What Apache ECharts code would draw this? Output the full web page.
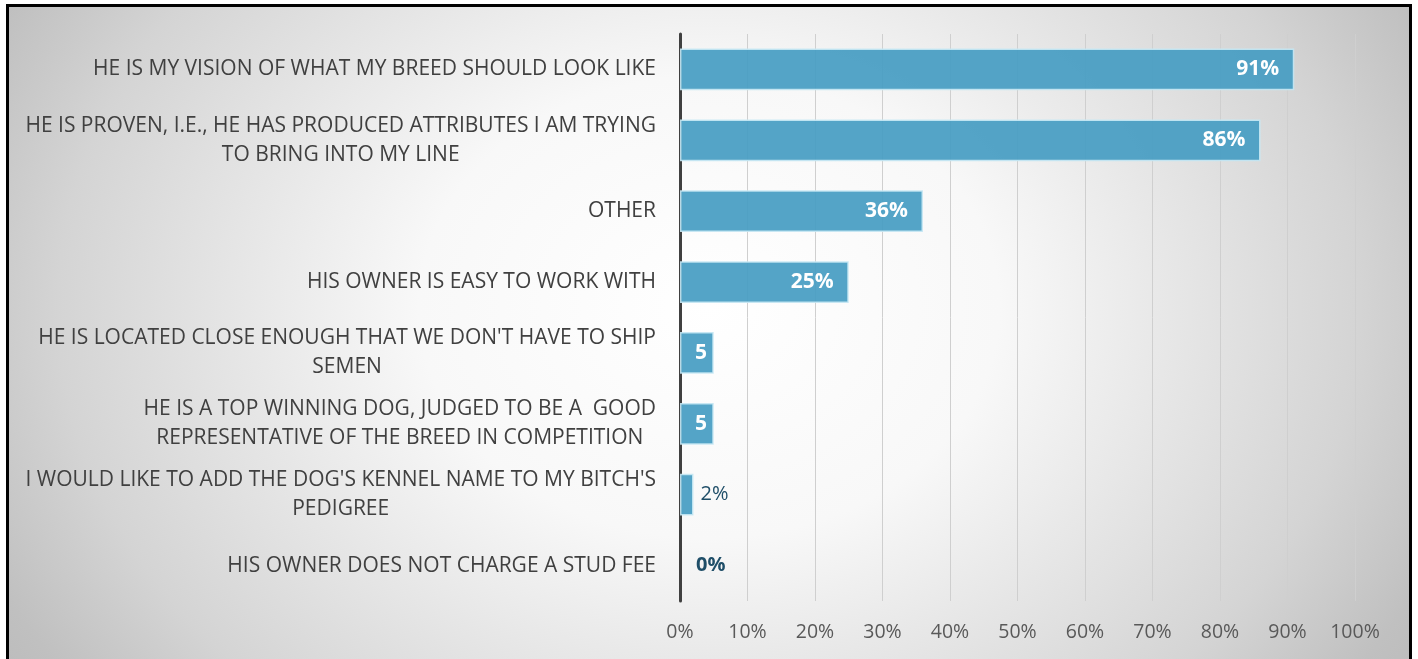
<!DOCTYPE html>
<html>
<head>
<meta charset="utf-8">
<script src="https://cdn.jsdelivr.net/npm/echarts@6/dist/echarts.min.js"></script>
<style>
  html, body { margin: 0; padding: 0; background: #ffffff; }
  #frame {
    position: absolute; left: 6px; top: 4px; width: 1400px; height: 700px;
    border: 3px solid #000; box-sizing: content-box;
    background: radial-gradient(ellipse 880px 700px at 700px 300px,
      #ffffff 0%, #f8f8f8 33%, #d4d4d4 74%, #c0c0c0 90%, #b9b9b9 100%);
  }
  #chart { position: absolute; left: 0; top: 0; width: 1418px; height: 659px; }
</style>
</head>
<body>
<div id="frame"></div>
<div id="chart"></div>
<script>
// Reasons for choosing a stud dog (share of respondents, %)
const categories = [
  "HE IS MY VISION OF WHAT MY BREED SHOULD LOOK LIKE",
  "HE IS PROVEN, I.E., HE HAS PRODUCED ATTRIBUTES I AM TRYING\nTO BRING INTO MY LINE",
  "OTHER",
  "HIS OWNER IS EASY TO WORK WITH",
  "HE IS LOCATED CLOSE ENOUGH THAT WE DON'T HAVE TO SHIP\nSEMEN",
  "HE IS A TOP WINNING DOG, JUDGED TO BE A  GOOD\nREPRESENTATIVE OF THE BREED IN COMPETITION",
  "I WOULD LIKE TO ADD THE DOG'S KENNEL NAME TO MY BITCH'S\nPEDIGREE",
  "HIS OWNER DOES NOT CHARGE A STUD FEE"
];
const values = [91, 86, 36, 25, 5, 5, 2, 0];
const tickValues = [0, 10, 20, 30, 40, 50, 60, 70, 80, 90, 100];

const FONT = "'Open Sans', sans-serif";

// Label placement depends on how much room the bar leaves for its text
function labelFor(v) {
  if (v >= 20) {
    return { show: true, position: 'insideRight', distance: 15, color: '#ffffff',
             fontWeight: 'bold', fontSize: 21, fontFamily: FONT, formatter: '{c}%' };
  }
  if (v >= 4) {
    // the narrow bar only has room for the number itself
    return { show: true, position: 'insideLeft', distance: 15, color: '#ffffff',
             fontWeight: 'bold', fontSize: 21, fontFamily: FONT, formatter: '{c}%',
             width: 22, overflow: 'truncate', ellipsis: '' };
  }
  if (v > 0) {
    return { show: true, position: 'right', distance: 7, color: '#1f4e68',
             fontWeight: 'normal', fontSize: 20, fontFamily: FONT, formatter: '{c}%' };
  }
  return { show: true, position: 'right', distance: 16, color: '#1f4e68',
           fontWeight: 'bold', fontSize: 20, fontFamily: FONT, formatter: '{c}%' };
}

const barStyle = {
  color: 'rgba(71,157,195,0.93)',
  borderColor: 'rgba(200,232,244,0.9)',
  borderWidth: 1.5
};

const chart = echarts.init(document.getElementById('chart'), null, { renderer: 'canvas' });
chart.setOption({
  backgroundColor: 'transparent',
  animation: false,
  grid: { left: 680, right: 63, top: 34, bottom: 58, containLabel: false },
  xAxis: {
    type: 'value',
    min: tickValues[0],
    max: tickValues[tickValues.length - 1],
    interval: 10,
    axisLine: { show: false },
    axisTick: { show: false },
    splitLine: { show: true, lineStyle: { color: '#cfcfcf', width: 1 } },
    axisLabel: {
      color: '#595959', fontSize: 19.5, fontFamily: FONT, margin: 21,
      formatter: v => v + '%'
    }
  },
  yAxis: {
    type: 'category',
    inverse: true,
    data: categories,
    axisLine: { show: true, lineStyle: { color: '#404040', width: 3 } },
    axisTick: { show: false },
    axisLabel: {
      margin: 24,
      align: 'right',
      // block is right-aligned against the axis; lines within it are centred
      formatter: v => v.split('\n').map(line => '{c|' + line + '}').join('\n'),
      rich: {
        c: { align: 'center', color: '#404040', fontSize: 21, fontFamily: FONT, lineHeight: 29 }
      }
    }
  },
  series: [{
    type: 'bar',
    barWidth: '59%',
    data: values.map(v => ({
      value: v,
      label: labelFor(v),
      itemStyle: v > 0 ? barStyle : { color: 'transparent', borderWidth: 0 }
    })),
    itemStyle: barStyle
  }]
});
</script>
</body>
</html>
